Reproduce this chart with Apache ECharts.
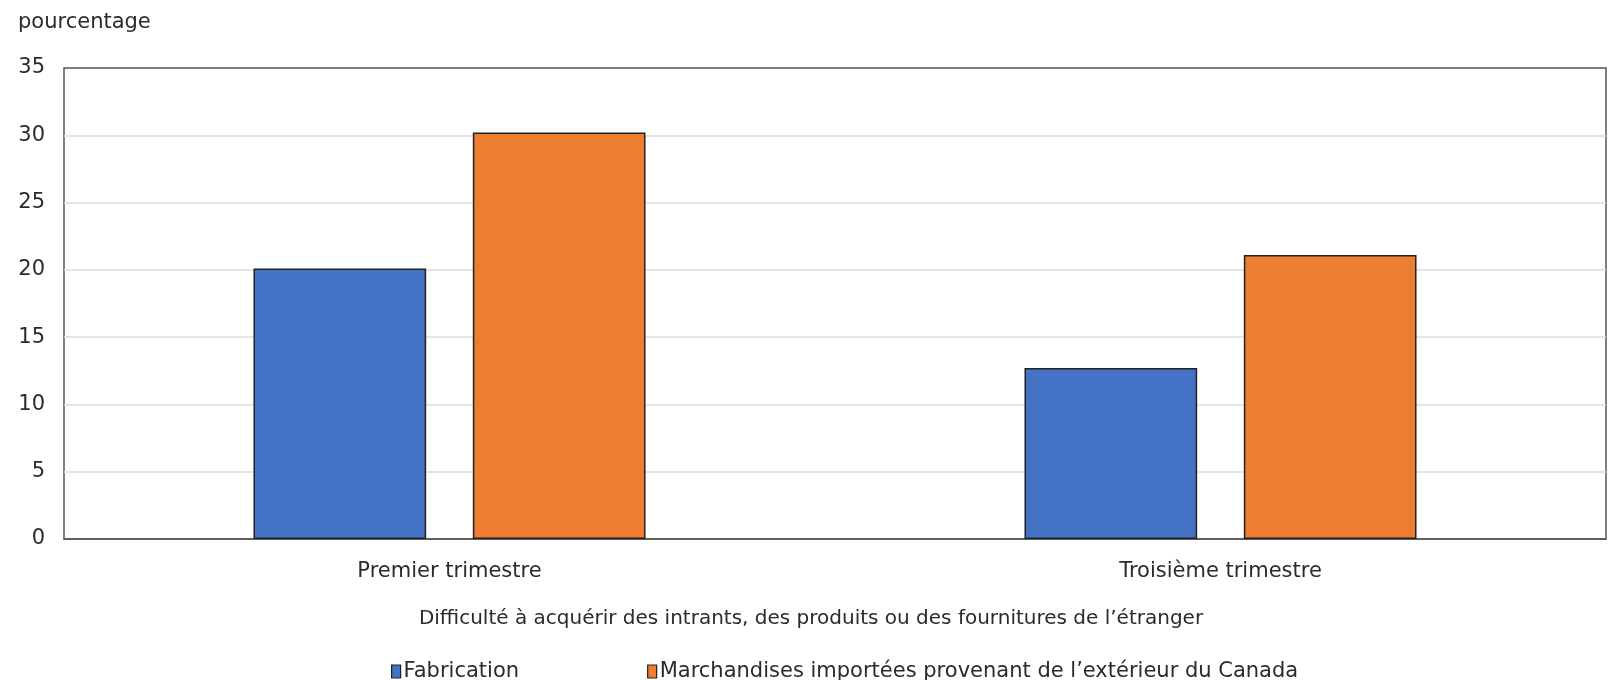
<!DOCTYPE html>
<html>
<head>
<meta charset="utf-8">
<script src="https://cdn.jsdelivr.net/npm/echarts@6/dist/echarts.min.js"></script>
<style>
html,body{margin:0;padding:0;background:#fff;}
#chart{width:1608px;height:680px;}
</style>
</head>
<body>
<div id="chart"></div>
<script>
const categories = ["Premier trimestre", "Troisième trimestre"];
const fabrication = [20.1, 12.7];
const marchandises = [30.2, 21.1];
const seriesNames = ["Fabrication", "Marchandises importées provenant de l’extérieur du Canada"];
const yTicks = [0, 5, 10, 15, 20, 25, 30, 35];

const FONT = "DejaVu Sans";
const TXT = '#2b2b2b';
const chart = echarts.init(document.getElementById('chart'));
chart.setOption({
  animation: false,
  backgroundColor: '#fff',
  textStyle: { fontFamily: FONT },
  grid: { left: 64, right: 2, top: 68, bottom: 141, show: true, borderColor: '#555', borderWidth: 1.5, backgroundColor: 'transparent' },
  legend: {
    top: 656, left: 386,
    itemWidth: 9, itemHeight: 13, itemGap: 128,
    icon: 'rect',
    textStyle: { fontFamily: FONT, fontSize: 21, color: TXT, padding: [0,0,0,-2] },
    data: seriesNames.map(n => ({ name: n, itemStyle: { borderColor: '#222', borderWidth: 1.2 } }))
  },
  xAxis: {
    type: 'category',
    data: categories,
    name: 'Difficulté à acquérir des intrants, des produits ou des fournitures de l’étranger',
    nameLocation: 'middle', nameGap: 70,
    nameTextStyle: { fontFamily: FONT, fontSize: 20, color: TXT, padding: [0, 48, 0, 0] },
    axisLine: { show: true, lineStyle: { color: '#555', width: 1.5 } },
    axisTick: { show: false },
    axisLabel: { fontFamily: FONT, fontSize: 21, color: TXT, margin: 22 }
  },
  yAxis: {
    type: 'value', min: yTicks[0], max: yTicks[yTicks.length - 1], interval: 5,
    name: 'pourcentage', nameLocation: 'end', nameGap: 45,
    nameTextStyle: { fontFamily: FONT, fontSize: 21, color: TXT, align: 'left', verticalAlign: 'middle', padding: [0, 0, 0, -46] },
    axisLine: { show: false },
    axisTick: { show: false },
    axisLabel: { fontFamily: FONT, fontSize: 21, color: TXT, margin: 19 },
    splitLine: { show: true, showMinLine: false, showMaxLine: false, lineStyle: { color: '#dcdcdc', width: 1.5 } }
  },
  series: [
    { name: seriesNames[0], type: 'bar', data: fabrication, barWidth: '22.4%', barGap: '27%',
      itemStyle: { color: '#4472c4', borderColor: '#222', borderWidth: 1.5 } },
    { name: seriesNames[1], type: 'bar', data: marchandises, barWidth: '22.4%', barGap: '27%',
      itemStyle: { color: '#ed7d31', borderColor: '#222', borderWidth: 1.5 } }
  ]
});
</script>
</body>
</html>
